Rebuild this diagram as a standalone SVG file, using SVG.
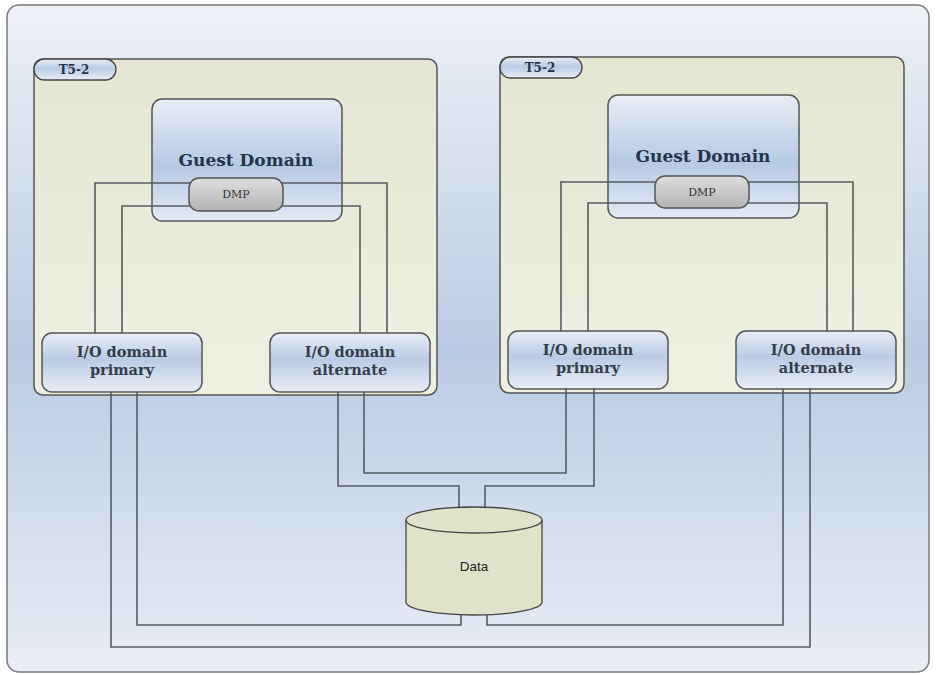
<svg xmlns="http://www.w3.org/2000/svg" width="936" height="675" viewBox="0 0 936 675">
<defs>
<linearGradient id="gBg" x1="0" y1="0" x2="0" y2="1">
<stop offset="0" stop-color="#eef1f7"/>
<stop offset="0.52" stop-color="#b9cbe3"/>
<stop offset="1" stop-color="#e9edf5"/>
</linearGradient>
<linearGradient id="gCream" x1="0" y1="0" x2="0" y2="1">
<stop offset="0" stop-color="#e5e7d3"/>
<stop offset="1" stop-color="#eef0e2"/>
</linearGradient>
<linearGradient id="gBlue" x1="0" y1="0" x2="0" y2="1">
<stop offset="0" stop-color="#e9eef7"/>
<stop offset="0.55" stop-color="#b6c9e3"/>
<stop offset="1" stop-color="#e3eaf5"/>
</linearGradient>
<linearGradient id="gIO" x1="0" y1="0" x2="0" y2="1">
<stop offset="0" stop-color="#e8edf6"/>
<stop offset="0.45" stop-color="#b9cbe4"/>
<stop offset="1" stop-color="#e9eef6"/>
</linearGradient>
<linearGradient id="gDmp" x1="0" y1="0" x2="0" y2="1">
<stop offset="0" stop-color="#dedede"/>
<stop offset="1" stop-color="#b3b3b3"/>
</linearGradient>
</defs>
<style>
.frame{fill:url(#gBg);stroke:#7a7a7a;stroke-width:1.5}
.host{fill:url(#gCream);stroke:#555;stroke-width:1.5}
.tab{fill:url(#gIO);stroke:#444;stroke-width:1.3}
.guest{fill:url(#gBlue);stroke:#555;stroke-width:1.5}
.io{fill:url(#gIO);stroke:#555;stroke-width:1.5}
.dmp{fill:url(#gDmp);stroke:#555;stroke-width:1.5}
.cyl{fill:#e0e2ca;stroke:#444;stroke-width:1.3}
.wire{fill:none;stroke:#555c63;stroke-width:1.6}
.t{font-family:"DejaVu Serif","Liberation Serif",serif;fill:#24344a;text-anchor:middle}
.tg{font-size:17px;font-weight:bold}
.tio{font-size:14.5px;font-weight:bold;fill:#343d48}
.ts{font-size:11px;fill:#333}
.tab-t{font-size:12px;font-weight:bold}
.td{font-family:"Liberation Sans",Arial,sans-serif;font-size:13.5px;fill:#222;text-anchor:middle}
</style>
<rect class="frame" x="7" y="5" width="922" height="667" rx="12"/>
<g id="host-left">
<rect class="host" x="34" y="59" width="403" height="336" rx="9"/>
<g id="tab-left"><rect class="tab" x="34" y="59" width="82" height="21" rx="10.5"/><text class="t tab-t" x="74" y="74">T5-2</text></g>
</g>
<g id="host-right">
<rect class="host" x="500" y="57" width="404" height="336" rx="9"/>
<g id="tab-right"><rect class="tab" x="500" y="57" width="82" height="21" rx="10.5"/><text class="t tab-t" x="540" y="72">T5-2</text></g>
</g>
<g id="guest-left"><rect class="guest" x="152" y="99" width="190" height="122" rx="10"/><text class="t tg" x="246" y="166">Guest Domain</text></g>
<g id="guest-right"><rect class="guest" x="608" y="95" width="191" height="123" rx="10"/><text class="t tg" x="703" y="162">Guest Domain</text></g>
<g id="connectors">
<path class="wire" d="M95,333 V183 H387 V333"/>
<path class="wire" d="M122,333 V206 H360 V333"/>
<path class="wire" d="M561,331 V182 H853 V331"/>
<path class="wire" d="M588,331 V203 H827 V331"/>
<path class="wire" d="M111,392 V647 H810 V389"/>
<path class="wire" d="M137,392 V625 H461 V614"/>
<path class="wire" d="M338,392 V486 H459 V508"/>
<path class="wire" d="M364,392 V473 H566 V389"/>
<path class="wire" d="M594,389 V486 H485 V508"/>
<path class="wire" d="M783,389 V625 H487 V614"/>
</g>
<g id="dmp-left"><rect class="dmp" x="189" y="178" width="94" height="33" rx="10"/><text class="t ts" x="236" y="198">DMP</text></g>
<g id="dmp-right"><rect class="dmp" x="655" y="176" width="94" height="32" rx="10"/><text class="t ts" x="702" y="196">DMP</text></g>
<g id="io-primary-left"><rect class="io" x="42" y="333" width="160" height="59" rx="10"/><text class="t tio" x="122" y="357">I/O domain</text><text class="t tio" x="122" y="375">primary</text></g>
<g id="io-alternate-left"><rect class="io" x="270" y="333" width="160" height="59" rx="10"/><text class="t tio" x="350" y="357">I/O domain</text><text class="t tio" x="350" y="375">alternate</text></g>
<g id="io-primary-right"><rect class="io" x="508" y="331" width="160" height="58" rx="10"/><text class="t tio" x="588" y="355">I/O domain</text><text class="t tio" x="588" y="373">primary</text></g>
<g id="io-alternate-right"><rect class="io" x="736" y="331" width="160" height="58" rx="10"/><text class="t tio" x="816" y="355">I/O domain</text><text class="t tio" x="816" y="373">alternate</text></g>
<g id="data">
<path class="cyl" d="M406,520 V602 A68,13 0 0 0 542,602 V520 A68,13 0 0 0 406,520 Z"/>
<path class="cyl" d="M406,520 A68,13 0 0 0 542,520"/>
<text class="td" x="474" y="571">Data</text>
</g>
</svg>
